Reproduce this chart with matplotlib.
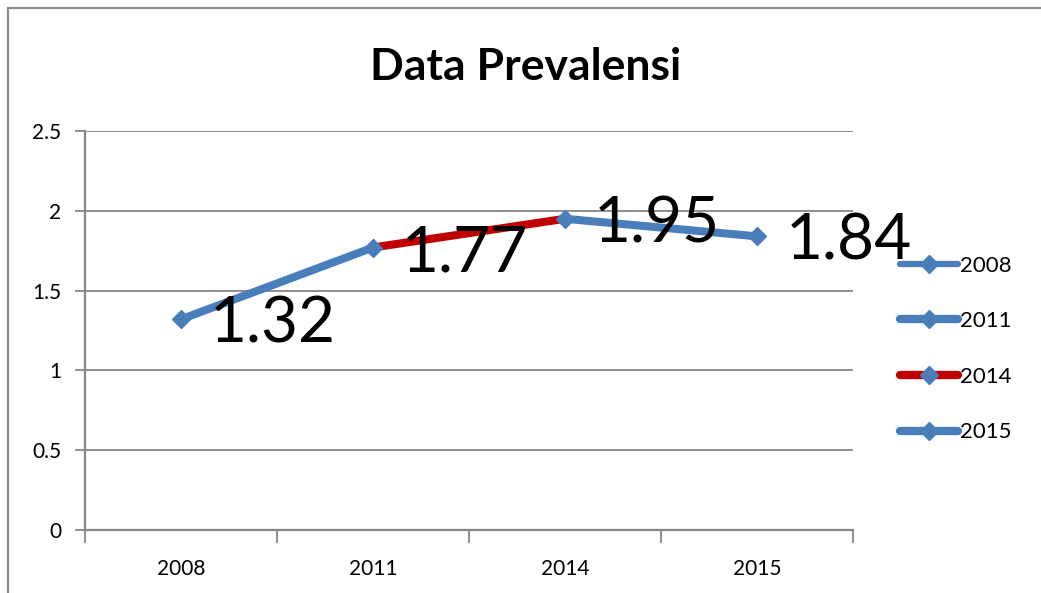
import matplotlib
matplotlib.use("Agg")
import matplotlib.pyplot as plt
from matplotlib.lines import Line2D
from matplotlib.patches import Rectangle

years = ["2008", "2011", "2014", "2015"]
values = [1.32, 1.77, 1.95, 1.84]
seg_colors = ["#4A7EBB", "#C00000", "#4A7EBB"]
legend_colors = ["#4A7EBB", "#4A7EBB", "#C00000", "#4A7EBB"]
legend_widths = [4.5, 6.0, 6.0, 6.0]
yticks = [0, 0.5, 1, 1.5, 2, 2.5]
ytick_labels = ["0", "0.5", "1", "1.5", "2", "2.5"]

BLUE = "#4A7EBB"
GRID = "#868686"
FONT = "Lato"

plt.rcParams["font.family"] = [FONT, "DejaVu Sans"]

fig = plt.figure(figsize=(10.41, 5.93), dpi=100)
fig.patches.append(Rectangle((8 / 1041, -0.1), 1.2, 1.1 - 8 / 593, transform=fig.transFigure,
                             fill=False, edgecolor="#8c8c8c", lw=1.6, zorder=0))

ax = fig.add_axes([85 / 1041, 1 - 530 / 593, 768 / 1041, 399 / 593])
x = list(range(len(years)))

for i in range(len(values) - 1):
    ax.plot(x[i:i + 2], values[i:i + 2], color=seg_colors[i], lw=5.8,
            solid_capstyle="butt", zorder=3)
ax.plot(x, values, ls="none", marker="D", ms=9, color=BLUE, mec=BLUE, zorder=4)

for xi, v in zip(x, values):
    ax.annotate(f"{v:.2f}", (xi, v), xytext=(21, -4), textcoords="offset points",
                ha="left", va="center", fontsize=46, color="black", zorder=5)

ax.set_xlim(-0.5, len(years) - 0.5)
ax.set_ylim(0, 2.5)
ax.set_yticks(yticks)
ax.set_yticklabels(ytick_labels, fontsize=15)
ax.set_xticks(x)
ax.set_xticklabels(years, fontsize=15)
ax.set_xticks([i - 0.5 for i in range(len(years) + 1)], minor=True)
ax.tick_params(axis="x", which="major", length=0, pad=21)
ax.tick_params(axis="x", which="minor", length=9, width=1.3, color=GRID, direction="out")
ax.tick_params(axis="y", length=7, width=1.3, color=GRID, pad=10)
ax.grid(axis="y", color=GRID, lw=1.3)
ax.set_axisbelow(True)
for s in ["top", "right"]:
    ax.spines[s].set_visible(False)
for s in ["left", "bottom"]:
    ax.spines[s].set_color(GRID)
    ax.spines[s].set_linewidth(1.6)
ax.spines["bottom"].set_zorder(2.5)

handles = [Line2D([], [], color=c, lw=w, marker="D", ms=9, mfc=BLUE, mec=BLUE,
                  solid_capstyle="round")
           for c, w in zip(legend_colors, legend_widths)]
fig.legend(handles, years, loc="center left", bbox_to_anchor=(900 / 1041, 1 - 349 / 593),
           frameon=False, fontsize=16, handlelength=2.6, handletextpad=0.1,
           labelspacing=1.6, borderpad=0, borderaxespad=0)

fig.text(526 / 1041, 1 - 80 / 593, "Data Prevalensi", ha="center", va="baseline",
         fontsize=32, fontweight="bold")

fig.savefig("out.png", dpi=100, facecolor="white")
